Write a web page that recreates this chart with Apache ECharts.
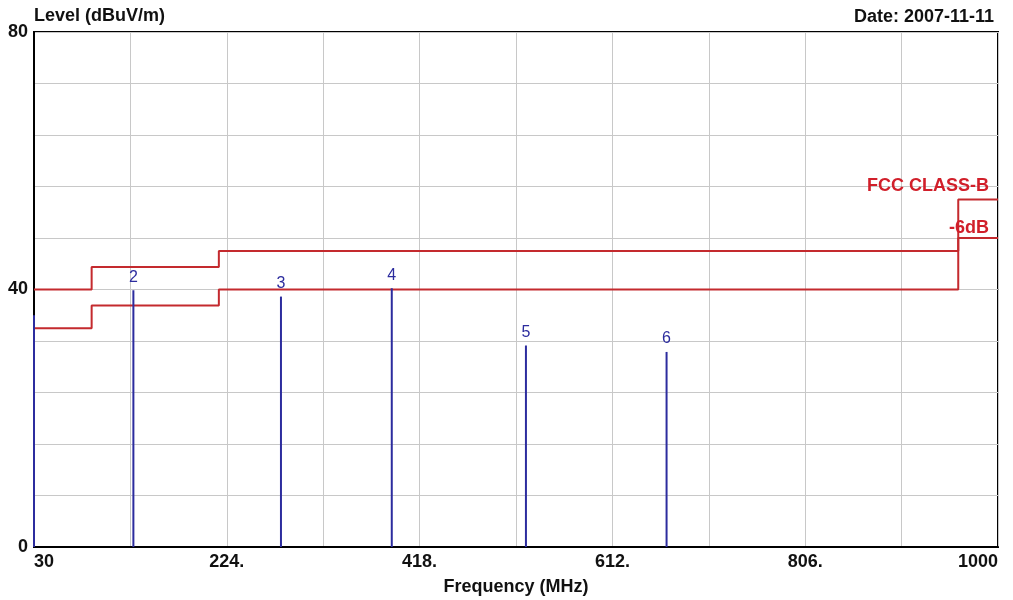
<!DOCTYPE html>
<html>
<head>
<meta charset="utf-8">
<script src="https://cdn.jsdelivr.net/npm/echarts@6/dist/echarts.min.js"></script>
<style>
html,body{margin:0;padding:0;background:#fff;}
#chart{width:1013px;height:600px;}
</style>
</head>
<body>
<div id="chart"></div>
<script>
// ---- data ----
const xMin = 30, xMax = 1000, xStep = 97;
const yMin = 0, yMax = 80, yStep = 8;
const xLabelValues = [30, 224, 418, 612, 806, 1000];
const xLabelTexts = ['30', '224.', '418.', '612.', '806.', '1000'];
const yLabelValues = [0, 40, 80];
const yLabelTexts = ['0', '40', '80'];

const limitEdges = [30, 88, 216, 960, 1000];
const classBLevels = [40, 43.5, 46, 54];
const minus6Levels = [34, 37.5, 40, 48];
const limitNames = ['FCC CLASS-B', '-6dB'];

const peakFreqs = [30, 130, 278.5, 390, 525, 666.5];
const peakLevels = [36.0, 39.9, 38.9, 40.2, 31.3, 30.3];
const peakLabels = ['', '2', '3', '4', '5', '6'];

const titleText = 'Level (dBuV/m)';
const xNameText = 'Frequency (MHz)';
const dateText = 'Date: 2007-11-11';

// ---- build ----
const FONT = '"Liberation Sans", Arial, sans-serif';
const RED_LINE = '#c42a2e';
const RED_TEXT = '#d11f2a';
const BLUE = '#2c2c9e';

function stepData(levels, name, labelDist) {
  const pts = [];
  for (let i = 0; i < levels.length; i++) {
    pts.push([limitEdges[i], levels[i]]);
    pts.push([limitEdges[i + 1], levels[i]]);
  }
  const last = pts.length - 1;
  pts[last] = {
    value: pts[last],
    label: {
      show: true, position: 'top', align: 'right', distance: labelDist,
      offset: [-9, 0], formatter: name, color: RED_TEXT,
      fontFamily: FONT, fontWeight: 'bold', fontSize: 18
    }
  };
  return pts;
}

function lookup(vals, texts, v) {
  for (let i = 0; i < vals.length; i++) if (Math.abs(vals[i] - v) < 1e-6) return texts[i];
  return '';
}

const chart = echarts.init(document.getElementById('chart'), null, {renderer: 'canvas'});
chart.setOption({
  animation: false,
  backgroundColor: '#fff',
  title: {
    text: dateText, right: 14, top: 3,
    textStyle: {fontFamily: FONT, fontWeight: 'bold', fontSize: 18, color: '#111'}
  },
  grid: {left: 34, right: 15, top: 32, bottom: 53, containLabel: false, outerBoundsMode: 'none',
         show: true, borderColor: '#000', borderWidth: 2, backgroundColor: '#fff'},
  xAxis: {
    type: 'value', min: xMin, max: xMax, interval: xStep,
    name: xNameText, nameLocation: 'middle', nameGap: 31,
    nameTextStyle: {fontFamily: FONT, fontWeight: 'bold', fontSize: 18, color: '#111'},
    axisLine: {show: true, lineStyle: {color: '#000', width: 2}},
    axisTick: {show: false},
    splitLine: {show: true, lineStyle: {color: '#c8c8c8', width: 1}},
    axisLabel: {
      fontFamily: FONT, fontWeight: 'bold', fontSize: 18, color: '#111', margin: 6,
      showMinLabel: true, showMaxLabel: true, alignMinLabel: 'left', alignMaxLabel: 'right',
      formatter: v => lookup(xLabelValues, xLabelTexts, v)
    }
  },
  yAxis: {
    type: 'value', min: yMin, max: yMax, interval: yStep,
    name: titleText, nameLocation: 'end', nameGap: 16,
    nameTextStyle: {fontFamily: FONT, fontWeight: 'bold', fontSize: 18, color: '#111', align: 'left', verticalAlign: 'middle'},
    axisLine: {show: true, lineStyle: {color: '#000', width: 2}},
    axisTick: {show: false},
    splitLine: {show: true, lineStyle: {color: '#c8c8c8', width: 1}},
    axisLabel: {
      fontFamily: FONT, fontWeight: 'bold', fontSize: 18, color: '#111', margin: 6,
      formatter: v => lookup(yLabelValues, yLabelTexts, v)
    }
  },
  series: [
    {
      type: 'line', data: stepData(classBLevels, limitNames[0], 4),
      symbol: 'circle', symbolSize: 0, showSymbol: true, showAllSymbol: true,
      lineStyle: {color: RED_LINE, width: 2}, itemStyle: {color: RED_LINE}, z: 3
    },
    {
      type: 'line', data: stepData(minus6Levels, limitNames[1], 1),
      symbol: 'circle', symbolSize: 0, showSymbol: true, showAllSymbol: true,
      lineStyle: {color: RED_LINE, width: 2}, itemStyle: {color: RED_LINE}, z: 3
    },
    {
      type: 'bar', barWidth: 2, clip: false, z: 4,
      data: peakFreqs.map((f, i) => ({value: [f, peakLevels[i]], name: peakLabels[i]})),
      itemStyle: {color: BLUE},
      label: {
        show: true, position: 'top', distance: 5,
        formatter: p => p.name, color: BLUE, fontFamily: FONT, fontSize: 16
      }
    }
  ]
});
</script>
</body>
</html>
